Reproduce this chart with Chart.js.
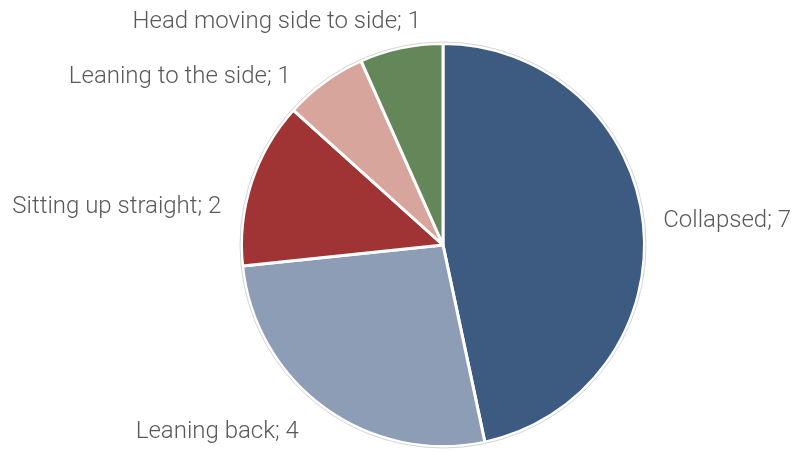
<!DOCTYPE html>
<html>
<head>
<meta charset="utf-8">
<script src="https://cdn.jsdelivr.net/npm/chart.js@4/dist/chart.umd.min.js"></script>
<style>
  html, body { margin: 0; padding: 0; background: #fff; }
  #wrap { width: 800px; height: 453px; position: relative; }
</style>
</head>
<body>
<div id="wrap"><canvas id="graficoPostura"></canvas></div>
<script>
const categorias = ['Collapsed', 'Leaning back', 'Sitting up straight', 'Leaning to the side', 'Head moving side to side']
const valores = [7, 4, 2, 1, 1]
const colores = ['#3D5A80', '#8D9DB5', '#A03333', '#D8A59D', '#64875A']

// etiquetas "Nombre; valor" fuera de cada sector
const etiquetasExternas = {
    id: 'etiquetasExternas',
    afterDatasetsDraw(chart, args, opts) {
        const { ctx } = chart
        const meta = chart.getDatasetMeta(0)
        ctx.save()

        // contorno gris fino del circulo
        const a0 = meta.data[0]
        ctx.beginPath()
        ctx.arc(a0.x, a0.y, a0.outerRadius + 1.5, 0, Math.PI * 2)
        ctx.strokeStyle = '#d4d4d4'
        ctx.lineWidth = 1
        ctx.stroke()

        ctx.font = opts.font
        ctx.fillStyle = opts.color
        ctx.textBaseline = 'middle'
        meta.data.forEach((arc, i) => {
            const medio = (arc.startAngle + arc.endAngle) / 2
            const dx = Math.cos(medio)
            const dy = Math.sin(medio)
            const r = arc.outerRadius + opts.gap
            const ajuste = opts.nudge[i] || [0, 0]
            const x = arc.x + dx * r + ajuste[0]
            const y = arc.y + dy * r + dy * 12 + ajuste[1]
            ctx.textAlign = dx > 0 ? 'left' : 'right'
            ctx.fillText(`${chart.data.labels[i]}; ${chart.data.datasets[0].data[i]}`, x, y)
        })
        ctx.restore()
    }
}

new Chart(document.getElementById('graficoPostura'), {
    type: 'pie',
    data: {
        labels: categorias,
        datasets: [{
            data: valores,
            backgroundColor: colores,
            borderColor: '#ffffff',
            borderWidth: 3
        }]
    },
    plugins: [etiquetasExternas],
    options: {
        responsive: true,
        maintainAspectRatio: false,
        animation: false,
        layout: { padding: { left: 240, right: 154, top: 42, bottom: 5 } },
        plugins: {
            legend: { display: false },
            tooltip: { enabled: false },
            etiquetasExternas: {
                font: '300 24px Roboto',
                color: '#595959',
                gap: 20,
                nudge: [[0, 0], [-14, -2], [-11, 34], [-22, 21], [24, 5]]
            }
        }
    }
})
</script>
</body>
</html>
